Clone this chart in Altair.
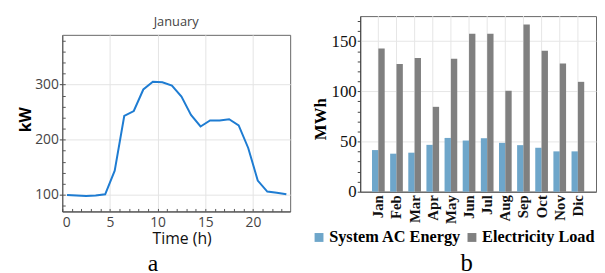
import altair as alt
import pandas as pd

# ---- Panel a: January hourly load ----
hours = [0.5, 1.5, 2.5, 3.5, 4.5, 5.5, 6.5, 7.5, 8.5, 9.5, 10.5, 11.5,
         12.5, 13.5, 14.5, 15.5, 16.5, 17.5, 18.5, 19.5, 20.5, 21.5, 22.5, 23.5]
kw = [100, 99, 98, 99, 101, 144, 243, 252, 291, 305, 304, 298,
      278, 245, 224, 235, 235, 237, 226, 185, 126, 106, 104, 101]

# ---- Panel b: monthly energy ----
months = ["Jan", "Feb", "Mar", "Apr", "May", "Jun", "Jul", "Aug", "Sep", "Oct", "Nov", "Dic"]
ac_energy = [41.5, 37.9, 38.9, 46.7, 53.6, 51.0, 53.3, 48.7, 46.4, 43.8, 40.2, 40.2]
elec_load = [142.8, 127.3, 133.3, 84.6, 132.4, 157.4, 157.4, 100.6, 166.6, 140.5, 127.8, 109.5]
series = ["System AC Energy", "Electricity Load"]
series_colors = ["#6ea6ca", "#808080"]

SANS = "Open Sans"
SERIF = "Liberation Serif"

df_a = pd.DataFrame({"hour": hours, "kw": kw})
df_b = pd.DataFrame({
    "month": months * 2,
    "series": [series[0]] * len(months) + [series[1]] * len(months),
    "value": ac_energy + elec_load,
})
df_m = pd.DataFrame({"month": months})

base_a = alt.Chart(df_a)
line = base_a.mark_line(color="#1e7cd2", strokeWidth=2).encode(
    x=alt.X("hour:Q",
            scale=alt.Scale(domain=[0, 23.9], nice=False, zero=False),
            axis=alt.Axis(orient="bottom", values=[0, 5, 10, 15, 20], title="Time (h)",
                          grid=True, gridColor="#e4e4e4", ticks=False,
                          labelFont=SANS, labelFontSize=14, labelColor="#444",
                          labelPadding=4, domainColor="#444",
                          titleFont=SANS, titleFontSize=16, titleFontWeight="normal",
                          titleColor="#111", titleX=121, titleY=32,
                          titleAlign="center", titleBaseline="alphabetic")),
    y=alt.Y("kw:Q",
            scale=alt.Scale(domain=[70, 390], nice=False, zero=False),
            axis=alt.Axis(orient="left", values=[100, 200, 300], title="kW",
                          grid=True, gridColor="#e4e4e4", tickSize=3, tickColor="#444",
                          labelFont=SANS, labelFontSize=14, labelColor="#444",
                          labelPadding=1, domainColor="#444",
                          titleFont=SANS, titleFontSize=16, titleFontWeight="bold",
                          titleColor="#000", titleAngle=-90, titleX=-32, titleY=85.5,
                          titleAlign="center", titleBaseline="alphabetic")),
)
minor = base_a.mark_line(opacity=0).encode(
    x=alt.X("hour:Q",
            axis=alt.Axis(orient="bottom", values=list(range(0, 24)), labels=False,
                          grid=False, domain=False, title=None,
                          tickSize=alt.ExprRef(expr="-3"), tickColor="#555")),
    y=alt.Y("kw:Q",
            axis=alt.Axis(orient="left", values=list(range(80, 390, 20)), labels=False,
                          grid=False, domain=False, title=None,
                          tickSize=alt.ExprRef(expr="-3"), tickColor="#555")),
)
label_a = alt.Chart(pd.DataFrame({"t": ["a"]})).mark_text(
    font=SERIF, fontSize=24, color="#000", baseline="alphabetic", align="center"
).encode(text="t:N", x=alt.value(92), y=alt.value(239))

panel_a = alt.layer(line, minor, label_a).resolve_axis(
    x="independent", y="independent"
).properties(
    width=231, height=179,
    title=alt.TitleParams("January", font=SANS, fontSize=13, fontWeight="normal",
                          color="#444", offset=6),
)

month_x = alt.X("month:N", sort=months,
                scale=alt.Scale(paddingInner=0.3, paddingOuter=0.65),
                axis=alt.Axis(title=None, labelAngle=-90, labelFont=SERIF, labelFontSize=15,
                              labelFontWeight="bold", labelColor="#111", labelPadding=3,
                              ticks=False, grid=False, domainColor="#444"))

vgrid = alt.Chart(df_m).mark_rule(color="#e6e6e6", strokeWidth=1).encode(x=month_x)

bars = alt.Chart(df_b).mark_bar().encode(
    x=month_x,
    xOffset=alt.XOffset("series:N", sort=series,
                        scale=alt.Scale(paddingInner=0, paddingOuter=0)),
    y=alt.Y("value:Q", scale=alt.Scale(domain=[0, 175], nice=False),
            axis=alt.Axis(values=list(range(0, 176, 10)),
                          labelExpr="datum.value % 50 === 0 ? datum.label : ''",
                          gridOpacity={"condition": {"test": "datum.value % 50 === 0", "value": 1}, "value": 0},
                          gridColor="#e6e6e6", tickSize=3, tickColor="#444",
                          labelFont=SERIF, labelFontSize=17, labelColor="#111",
                          labelPadding=1, domainColor="#444",
                          title="MWh", titleFont=SERIF, titleFontSize=17,
                          titleFontWeight="bold", titleColor="#000", titleAngle=-90,
                          titleX=-35, titleY=104, titleAlign="center",
                          titleBaseline="alphabetic")),
    color=alt.Color("series:N", sort=series,
                    scale=alt.Scale(domain=series, range=series_colors),
                    legend=alt.Legend(orient="none", legendX=-50, legendY=216,
                                      direction="horizontal", title=None,
                                      symbolType="square", symbolSize=81,
                                      symbolStrokeWidth=0, labelFont=SERIF,
                                      labelFontSize=16.5, labelFontWeight="bold",
                                      labelColor="#000", labelOffset=2,
                                      columnPadding=2, padding=0)),
)
label_b = alt.Chart(pd.DataFrame({"t": ["b"]})).mark_text(
    font=SERIF, fontSize=25, color="#000", baseline="alphabetic", align="center"
).encode(text="t:N", x=alt.value(108), y=alt.value(258))

# invisible spacer that balances the two panels' heights for centring
spacer_b = alt.Chart(pd.DataFrame({"t": ["b"]})).mark_rule(opacity=0).encode(
    x=alt.value(0), y=alt.value(250), y2=alt.value(282))

panel_b = alt.layer(vgrid, bars, label_b, spacer_b).properties(width=239, height=178)

chart = alt.hconcat(panel_a, panel_b, spacing=19, center=True).resolve_scale(
    color="independent"
).resolve_legend(color="independent").properties(
    padding={"left": 9, "top": 5, "right": 0, "bottom": 0}
).configure_view(stroke="#666", strokeWidth=1)

chart.save("out.html", embed_options={"renderer": "svg", "actions": False})
